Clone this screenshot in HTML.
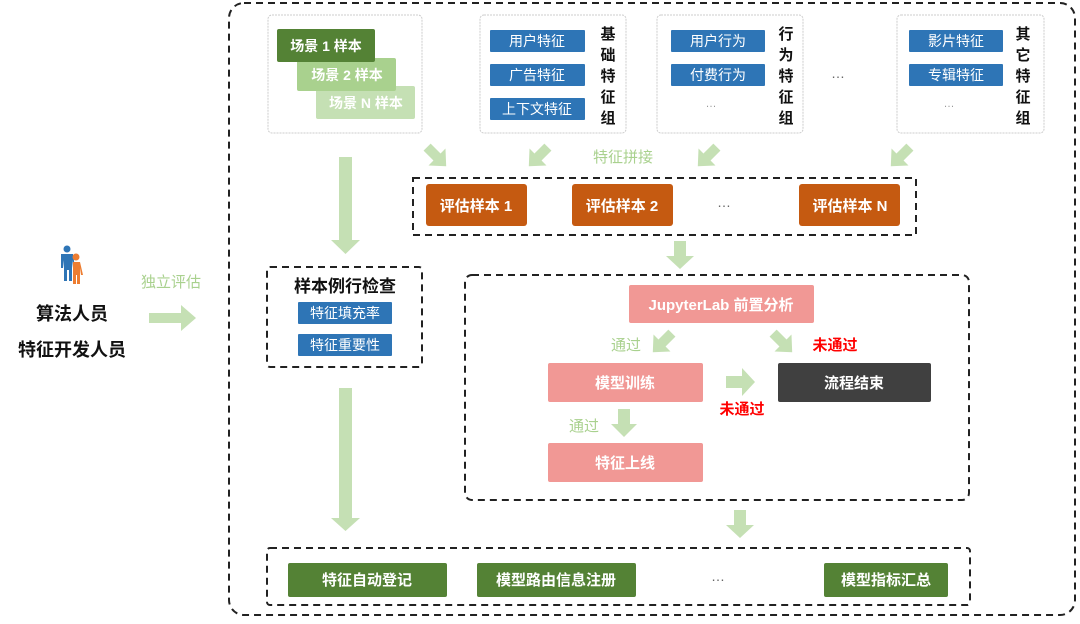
<!DOCTYPE html>
<html><head><meta charset="utf-8"><style>
html,body{margin:0;padding:0;background:#fff;}
svg text{font-family:"Liberation Sans","Noto Sans CJK SC",sans-serif;}
</style></head><body>
<svg width="1080" height="619" viewBox="0 0 1080 619" xmlns="http://www.w3.org/2000/svg">
<defs>
<path id="da" d="M-5,-14 L5,-14 L5,0 L12,0 L0,13 L-12,0 L-5,0 Z" fill="#c5e0b4"/>
</defs>
<!-- outer -->
<rect x="229" y="3" width="846" height="612" rx="15" fill="none" stroke="#222" stroke-width="2" stroke-dasharray="7,5"/>

<!-- left people -->
<g fill="#2e75b6">
<circle cx="67" cy="249" r="3.5"/>
<path d="M61,254 h12 l2,14 h-2 l-1,-8 v21 h-3 v-11 h-2 v11 h-3 v-21 l-1,8 h-2 z"/>
</g>
<g fill="#ed7d31">
<circle cx="76" cy="257" r="3.5"/>
<path d="M73,262 h7 l3,13 h-2 l-1,-7 v16 h-3 v-9 h-1 v9 h-3 z"/>
</g>
<text x="72" y="320" font-size="18" font-weight="bold" text-anchor="middle" fill="#111">算法人员</text>
<text x="72" y="356" font-size="18" font-weight="bold" text-anchor="middle" fill="#111">特征开发人员</text>
<text x="171" y="287" font-size="15" text-anchor="middle" fill="#a9d18e">独立评估</text>
<path d="M149,313 h32 v-8 l15,13 l-15,13 v-8 h-32 z" fill="#c5e0b4"/>

<!-- box1 -->
<rect x="268" y="15" width="154" height="118" rx="4" fill="#fff" stroke="#ccc" stroke-dasharray="2,1"/>
<rect x="316" y="86" width="99" height="33" rx="2" fill="#c5e0b4"/>
<rect x="297" y="58" width="99" height="33" rx="2" fill="#a9d18e"/>
<rect x="277" y="29" width="98" height="33" rx="2" fill="#548235"/>
<text x="326" y="51" font-size="14" font-weight="bold" fill="#fff" text-anchor="middle">场景 1 样本</text>
<text x="347" y="80" font-size="14" font-weight="bold" fill="#fff" text-anchor="middle">场景 2 样本</text>
<text x="366" y="108" font-size="14" font-weight="bold" fill="#fff" text-anchor="middle">场景 N 样本</text>

<!-- box2 -->
<rect x="480" y="15" width="146" height="118" rx="4" fill="#fff" stroke="#ccc" stroke-dasharray="2,1"/>
<g fill="#2e75b6"><rect x="490" y="30" width="95" height="22" rx="1"/><rect x="490" y="64" width="95" height="22" rx="1"/><rect x="490" y="98" width="95" height="22" rx="1"/></g>
<g font-size="14" fill="#fff" text-anchor="middle"><text x="537" y="46">用户特征</text><text x="537" y="80">广告特征</text><text x="537" y="114">上下文特征</text></g>
<g font-size="15" font-weight="bold" fill="#111" text-anchor="middle"><text x="608" y="39">基</text><text x="608" y="60">础</text><text x="608" y="81">特</text><text x="608" y="102">征</text><text x="608" y="123">组</text></g>

<!-- box3 -->
<rect x="657" y="15" width="146" height="118" rx="4" fill="#fff" stroke="#ccc" stroke-dasharray="2,1"/>
<g fill="#2e75b6"><rect x="671" y="30" width="94" height="22" rx="1"/><rect x="671" y="64" width="94" height="22" rx="1"/></g>
<g font-size="14" fill="#fff" text-anchor="middle"><text x="718" y="46">用户行为</text><text x="718" y="80">付费行为</text></g>
<text x="711" y="107" font-size="11" fill="#999" text-anchor="middle">…</text>
<g font-size="15" font-weight="bold" fill="#111" text-anchor="middle"><text x="786" y="39">行</text><text x="786" y="60">为</text><text x="786" y="81">特</text><text x="786" y="102">征</text><text x="786" y="123">组</text></g>
<text x="838" y="78" font-size="14" fill="#666" text-anchor="middle">…</text>

<!-- box4 -->
<rect x="897" y="15" width="147" height="118" rx="4" fill="#fff" stroke="#ccc" stroke-dasharray="2,1"/>
<g fill="#2e75b6"><rect x="909" y="30" width="94" height="22" rx="1"/><rect x="909" y="64" width="94" height="22" rx="1"/></g>
<g font-size="14" fill="#fff" text-anchor="middle"><text x="956" y="46">影片特征</text><text x="956" y="80">专辑特征</text></g>
<text x="949" y="107" font-size="11" fill="#999" text-anchor="middle">…</text>
<g font-size="15" font-weight="bold" fill="#111" text-anchor="middle"><text x="1023" y="39">其</text><text x="1023" y="60">它</text><text x="1023" y="81">特</text><text x="1023" y="102">征</text><text x="1023" y="123">组</text></g>

<!-- diagonal arrows -->
<use href="#da" transform="translate(437,157) rotate(-45)"/>
<use href="#da" transform="translate(538,157) rotate(45)"/>
<use href="#da" transform="translate(707,157) rotate(45)"/>
<use href="#da" transform="translate(900,157) rotate(45)"/>
<text x="623" y="162" font-size="15" fill="#a9d18e" text-anchor="middle">特征拼接</text>

<!-- eval samples -->
<rect x="413" y="178" width="503" height="57" fill="none" stroke="#222" stroke-width="2" stroke-dasharray="7,5"/>
<g fill="#c55a11"><rect x="426" y="184" width="101" height="42" rx="3"/><rect x="572" y="184" width="101" height="42" rx="3"/><rect x="799" y="184" width="101" height="42" rx="3"/></g>
<g font-size="15" font-weight="bold" fill="#fff" text-anchor="middle"><text x="476" y="211">评估样本 1</text><text x="622" y="211">评估样本 2</text><text x="850" y="211">评估样本 N</text></g>
<text x="724" y="207" font-size="14" fill="#666" text-anchor="middle">…</text>

<!-- vertical arrows -->
<path d="M339,157 h13 v83 h8 l-14.5,14 l-14.5,-14 h8 z" fill="#c5e0b4"/>
<path d="M339,388 h13 v130 h8 l-14.5,13 l-14.5,-13 h8 z" fill="#c5e0b4"/>
<path d="M674,241 h12 v15 h8 l-14,13 l-14,-13 h8 z" fill="#c5e0b4"/>
<path d="M734,510 h12 v15 h8 l-14,13 l-14,-13 h8 z" fill="#c5e0b4"/>

<!-- check box -->
<rect x="267" y="267" width="155" height="100" rx="3" fill="none" stroke="#222" stroke-width="2" stroke-dasharray="7,5"/>
<text x="345" y="292" font-size="17" font-weight="bold" fill="#111" text-anchor="middle">样本例行检查</text>
<g fill="#2e75b6"><rect x="298" y="302" width="94" height="22" rx="1"/><rect x="298" y="334" width="94" height="22" rx="1"/></g>
<g font-size="14" fill="#fff" text-anchor="middle"><text x="345" y="318">特征填充率</text><text x="345" y="350">特征重要性</text></g>

<!-- flow box -->
<rect x="465" y="275" width="504" height="225" rx="7" fill="none" stroke="#222" stroke-width="2" stroke-dasharray="7,5"/>
<rect x="629" y="285" width="185" height="38" rx="2" fill="#f19895"/>
<text x="721" y="310" font-size="15" font-weight="bold" fill="#fff" text-anchor="middle">JupyterLab 前置分析</text>
<use href="#da" transform="translate(662,343) rotate(45)"/>
<use href="#da" transform="translate(783,343) rotate(-45)"/>
<text x="626" y="350" font-size="15" fill="#a9d18e" text-anchor="middle">通过</text>
<text x="835" y="350" font-size="15" font-weight="bold" fill="#ff0000" text-anchor="middle">未通过</text>
<rect x="548" y="363" width="155" height="39" rx="2" fill="#f19895"/>
<text x="625" y="388" font-size="15" font-weight="bold" fill="#fff" text-anchor="middle">模型训练</text>
<rect x="778" y="363" width="153" height="39" rx="2" fill="#404040"/>
<text x="854" y="388" font-size="15" font-weight="bold" fill="#fff" text-anchor="middle">流程结束</text>
<path d="M726,376 h16 v-8 l13,14 l-13,14 v-8 h-16 z" fill="#c5e0b4"/>
<text x="742" y="414" font-size="15" font-weight="bold" fill="#ff0000" text-anchor="middle">未通过</text>
<path d="M618,409 h12 v15 h7 l-13,13 l-13,-13 h7 z" fill="#c5e0b4"/>
<text x="584" y="431" font-size="15" fill="#a9d18e" text-anchor="middle">通过</text>
<rect x="548" y="443" width="155" height="39" rx="2" fill="#f19895"/>
<text x="625" y="468" font-size="15" font-weight="bold" fill="#fff" text-anchor="middle">特征上线</text>

<!-- bottom -->
<rect x="267" y="548" width="703" height="57" rx="3" fill="none" stroke="#222" stroke-width="2" stroke-dasharray="7,5"/>
<g fill="#548235"><rect x="288" y="563" width="159" height="34" rx="2"/><rect x="477" y="563" width="159" height="34" rx="2"/><rect x="824" y="563" width="124" height="34" rx="2"/></g>
<g font-size="15" font-weight="bold" fill="#fff" text-anchor="middle"><text x="367" y="585">特征自动登记</text><text x="556" y="585">模型路由信息注册</text><text x="886" y="585">模型指标汇总</text></g>
<text x="718" y="581" font-size="14" fill="#666" text-anchor="middle">…</text>
</svg>
</body></html>
